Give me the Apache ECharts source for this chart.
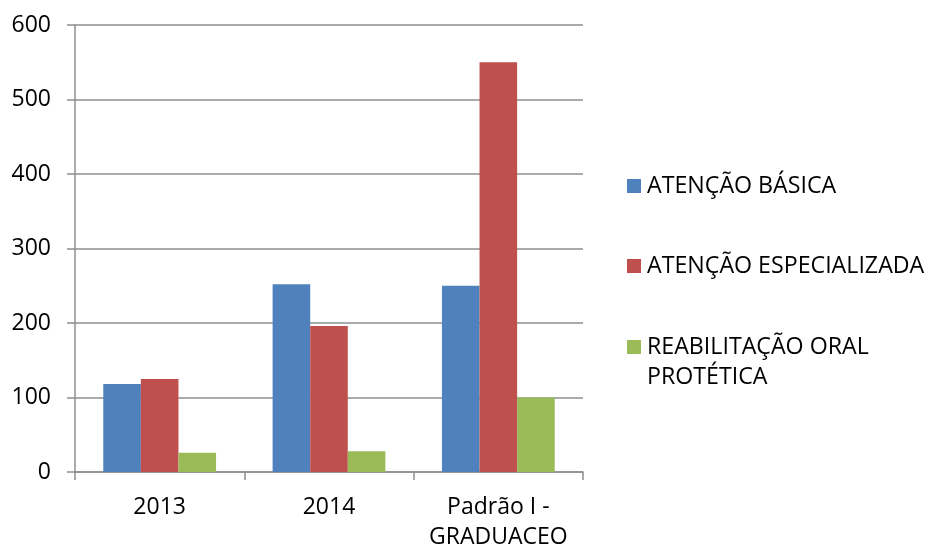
<!DOCTYPE html>
<html>
<head>
<meta charset="utf-8">
<script src="https://cdn.jsdelivr.net/npm/echarts@6/dist/echarts.min.js"></script>
<style>
  html, body { margin: 0; padding: 0; background: #fff; }
  #chart { width: 929px; height: 549px; }
</style>
</head>
<body>
<div id="chart"></div>
<script>
// Categories and series values
const categories = ['2013', '2014', 'Padrão I - GRADUACEO'];
const seriesNames = ['ATENÇÃO BÁSICA', 'ATENÇÃO ESPECIALIZADA', 'REABILITAÇÃO ORAL PROTÉTICA'];
const atencaoBasica = [118, 252, 250];
const atencaoEspecializada = [125, 196, 550];
const reabilitacaoOral = [26, 28, 100];
const yTicks = [0, 100, 200, 300, 400, 500, 600];

const colors = ['#4F81BD', '#C0504D', '#9BBB59'];
const font = '"Open Sans", "Liberation Sans", sans-serif';
const gridColor = '#8f8f8f';

const chart = echarts.init(document.getElementById('chart'), null, { renderer: 'canvas' });

// One legend block per series so each entry can sit at its own height;
// the long name wraps onto a second line below the swatch row.
function legendFor(i, top, wrapped) {
  const lines = wrapped ? seriesNames[i].replace(' ORAL ', ' ORAL\n').split('\n') : [seriesNames[i]];
  return {
    data: [seriesNames[i]],
    orient: 'vertical',
    left: 627,
    top: top,
    padding: 0,
    icon: 'rect',
    itemWidth: 14,
    itemHeight: 14,
    itemGap: 0,
    selectedMode: false,
    formatter: () => wrapped
      ? '{g| }\n' + lines.map(l => '{t|' + l + '}').join('\n')
      : '{t|' + lines[0] + '}',
    textStyle: {
      fontFamily: font,
      fontSize: 23.2,
      color: '#000',
      lineHeight: 30,
      rich: {
        g: { fontFamily: font, fontSize: 23.2, lineHeight: 30, height: 30, padding: [0, 0, 0, 1] },
        t: { fontFamily: font, fontSize: 23.2, color: '#000', lineHeight: 30, padding: [0, 0, 0, 1] }
      }
    }
  };
}

const values = [atencaoBasica, atencaoEspecializada, reabilitacaoOral];

chart.setOption({
  animation: false,
  backgroundColor: '#fff',
  color: colors,
  grid: { left: 75, right: 346, top: 25, bottom: 77, containLabel: false, outerBoundsMode: 'none' },
  legend: [
    legendFor(0, 171, false),
    legendFor(1, 251, false),
    legendFor(2, 302, true)
  ],
  xAxis: {
    type: 'category',
    data: categories,
    boundaryGap: true,
    axisLine: { show: true, lineStyle: { color: gridColor, width: 1.5 } },
    axisTick: { show: true, length: 8, lineStyle: { color: gridColor, width: 1.5 } },
    axisLabel: {
      fontFamily: font,
      fontSize: 23,
      color: '#000',
      lineHeight: 30,
      margin: 20,
      interval: 0,
      formatter: v => v.replace(' - ', ' -\n')
    },
    splitLine: { show: false }
  },
  yAxis: {
    type: 'value',
    min: yTicks[0],
    max: yTicks[yTicks.length - 1],
    interval: yTicks[1] - yTicks[0],
    axisLine: { show: true, lineStyle: { color: gridColor, width: 1.5 } },
    axisTick: { show: true, length: 8, lineStyle: { color: gridColor, width: 1.5 } },
    axisLabel: {
      fontFamily: font,
      fontSize: 23,
      color: '#000',
      margin: 24
    },
    splitLine: { show: true, lineStyle: { color: gridColor, width: 1.5 } }
  },
  series: seriesNames.map((name, i) => ({
    name: name,
    type: 'bar',
    data: values[i],
    barWidth: '22.2%',
    barGap: '0%',
    itemStyle: { color: colors[i] }
  }))
});
</script>
</body>
</html>
